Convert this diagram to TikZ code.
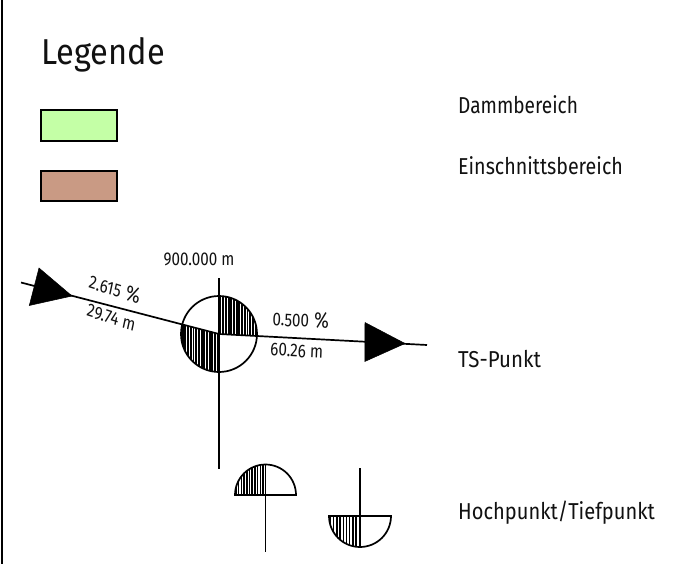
\documentclass[tikz,border=0pt]{standalone}
\usepackage{fontspec}
\setmainfont{Fira Sans}
\definecolor{dammgreen}{HTML}{C4FFA6}
\definecolor{cutbrown}{HTML}{C99A84}
\definecolor{labelgrey}{HTML}{111111}
\newcommand{\bigpct}{\hspace{6pt}{\fontsize{22}{22}\selectfont\%}}
\tikzset{
  line/.style={draw=black,line width=1.7pt},
  legendbox/.style={draw=black,line width=1.6pt},
  arrowtri/.style={fill=black,draw=black,line width=.5pt,line join=miter},
  lbl/.style={inner sep=0pt,anchor=base west,text=labelgrey,font=\fontsize{23}{23}\selectfont},
  small/.style={inner sep=0pt,anchor=base,text=labelgrey,font=\fontsize{18.5}{18.5}\selectfont,xscale=.82},
  hatchline/.style={draw=black,line width=1.9pt},
  hatchopen/.style={draw=black,line width=1.5pt}
}
\begin{document}
\begin{tikzpicture}[x=1pt,y=-1pt]
\useasboundingbox (0,0) rectangle (682,564);
\fill[white] (0,0) rectangle (682,564);
\draw[line width=2.6pt] (2,0) coordinate (borderTop) -- (2,564) coordinate (borderBottom);
% legend
\node[lbl,font=\fontsize{36}{36}\selectfont,xscale=.905] (legende) at (41,64.5) {Legende};
\path[legendbox,fill=dammgreen] (40.7,110.2) rectangle (117,141);
\path[legendbox,fill=cutbrown] (40.7,171) rectangle (117,201.2);
\node[lbl,xscale=.83] (damm) at (458,113.5) {Dammbereich};
\node[lbl,xscale=.855] (ein) at (458,175) {Einschnittsbereich};
\node[lbl,xscale=.89] (ts) at (458,367) {TS-Punkt};
\node[lbl,xscale=.873] (hoch) at (458,519) {Hochpunkt/Tiefpunkt};
% main symbol
\coordinate (c) at (219,334);
\coordinate (ls) at (21,282.5);
\coordinate (re) at (427,345);
\coordinate (vt) at (219,278);
\coordinate (vb) at (219,469);
\begin{scope}
  \clip (c) circle[radius=38];
  \clip (c) -- (219,290) -- (262,290) -- (262,336.2) -- cycle;
  \foreach \x in {220.5,223.2,...,258}{\draw[hatchline] (\x,290) -- (\x,340);}
\end{scope}
\begin{scope}
  \clip (c) circle[radius=38];
  \clip (c) -- (175,322.5) -- (175,375) -- (219,375) -- cycle;
  \foreach \x in {180,182.7,...,219}{\draw[hatchline] (\x,315) -- (\x,375);}
\end{scope}
\draw[line] (c) circle[radius=38];
\draw[line] (ls) -- (c) -- (re);
\draw[line] (vt) -- (vb);
\path[arrowtri] (72,296) -- (39,268) -- (29.3,305.5) -- cycle;
\path[arrowtri] (405,343.5) -- (365,322.5) -- (364.8,361.5) -- cycle;
\node[small] (station) at (199,265.5) {900.000 m};
\node[small,rotate=-14.7] (g1) at (113.5,296) {2.615\bigpct};
\node[small,rotate=-14.7] (d1) at (110,323.5) {29.74 m};
\node[small,rotate=-2.75] (g2) at (300.5,327) {0.500\bigpct};
\node[small,rotate=-2.75] (d2) at (296.5,357) {60.26 m};
% high point
\coordinate (h) at (265.5,495);
\coordinate (hb) at (265.5,552);
\begin{scope}
  \clip (h) circle[radius=30.5];
  \clip (234,464) rectangle (265.5,495);
  \foreach \x in {236,238.7,...,266}{\draw[hatchopen] (\x,460) -- (\x,496);}
\end{scope}
\draw[line] (235,495) arc[start angle=-180,end angle=0,radius=30.5] -- cycle;
\draw[line] (265.5,464.5) -- (hb);
% low point
\coordinate (t) at (360,516);
\coordinate (tt) at (360,468);
\begin{scope}
  \clip (t) circle[radius=31];
  \clip (329,516) rectangle (360,548);
  \foreach \x in {330.5,333.7,...,360}{\draw[hatchopen] (\x,516) -- (\x,550);}
\end{scope}
\draw[line] (329,516) arc[start angle=180,end angle=0,radius=31] -- cycle;
\draw[line] (tt) -- (360,547);
\end{tikzpicture}
\end{document}
